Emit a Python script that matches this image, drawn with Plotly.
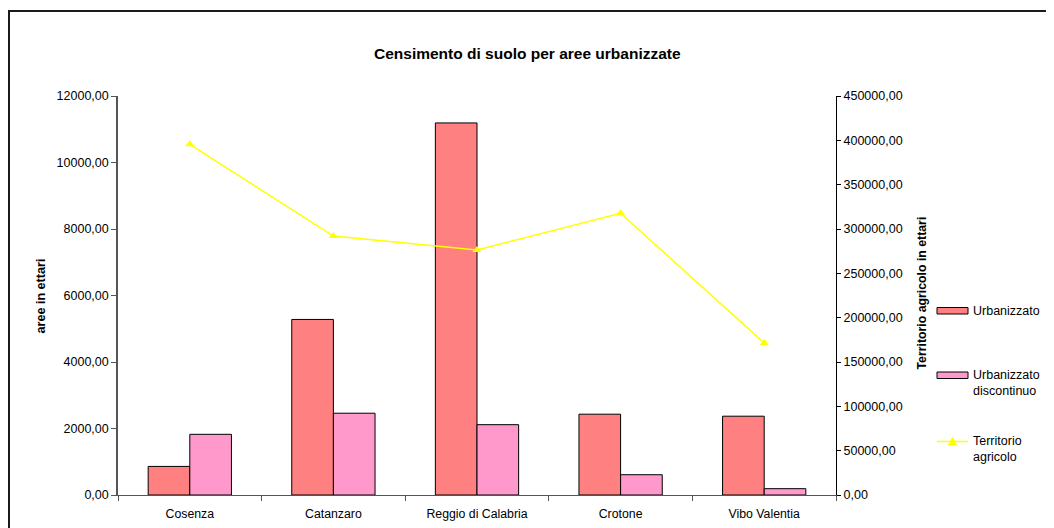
import plotly.graph_objects as go

categories = ["Cosenza", "Catanzaro", "Reggio di Calabria", "Crotone", "Vibo Valentia"]
urbanizzato = [860, 5280, 11190, 2430, 2370]
urbanizzato_discontinuo = [1825, 2460, 2115, 610, 190]
territorio_agricolo = [395500, 292000, 276300, 317700, 171400]
series_names = ["Urbanizzato", "Urbanizzato<br>discontinuo", "Territorio<br>agricolo"]
left_ticks = [0, 2000, 4000, 6000, 8000, 10000, 12000]
right_ticks = [0, 50000, 100000, 150000, 200000, 250000, 300000, 350000, 400000, 450000]

OFF = 8  # page body margin
W, H = 1054 - OFF, 528 - OFF
L, R, T, B = 118, 836, 96, 495  # page coordinates of plot area
def px(x):
    return (x - L) / (R - L)
def py(y):
    return (B - y) / (B - T)

FONT = "Liberation Sans, Arial, sans-serif"
RED = "#FF8080"
PINK = "#FF99CC"
YEL = "#FFFF00"
FS = 12.5

fig = go.Figure()
fig.add_trace(go.Bar(x=categories, y=urbanizzato, name="Urbanizzato",
                     marker=dict(color=RED, line=dict(color="#000000", width=1))))
fig.add_trace(go.Bar(x=categories, y=urbanizzato_discontinuo, name="Urbanizzato discontinuo",
                     marker=dict(color=PINK, line=dict(color="#000000", width=1))))
fig.add_trace(go.Scatter(x=categories, y=territorio_agricolo, name="Territorio agricolo",
                         yaxis="y2", mode="lines+markers",
                         line=dict(color=YEL, width=1.5),
                         marker=dict(symbol="triangle-up", size=8, color=YEL)))

fig.update_layout(
    width=W, height=H,
    margin=dict(l=L - OFF, r=W - (R - OFF), t=T - OFF, b=H - (B - OFF), pad=0),
    paper_bgcolor="white", plot_bgcolor="white",
    separators=",.",
    showlegend=False,
    barmode="group", bargap=0.42, bargroupgap=0,
    font=dict(family=FONT, size=FS, color="#000000"),
    xaxis=dict(type="category", showgrid=False, showline=True, linecolor="#555555", linewidth=1,
               ticks="outside", tickson="boundaries", ticklen=5, tickcolor="#555555",
               tickfont=dict(size=12.3), ticklabelstandoff=7, zeroline=False, automargin=False),
    yaxis=dict(range=[0, 12000], tickvals=left_ticks, tickformat=".2f", showgrid=False,
               showline=True, linecolor="#555555", linewidth=1.5, ticks="outside", ticklen=5,
               tickcolor="#555555", tickfont=dict(size=FS), zeroline=False, automargin=False),
    yaxis2=dict(range=[0, 450000], tickvals=right_ticks, tickformat=".2f", overlaying="y",
                side="right", showgrid=False, showline=True, linecolor="#000000", linewidth=1,
                ticks="outside", ticklen=4, tickcolor="#000000", tickfont=dict(size=FS),
                zeroline=False, automargin=False),
)

annotations = [
    dict(text="<b>Censimento di suolo per aree urbanizzate</b>", x=px(527), y=py(53.5),
         xref="paper", yref="paper", showarrow=False, font=dict(size=15.5), xanchor="center", yanchor="middle"),
    dict(text="<b>aree in ettari</b>", x=px(40), y=py(296.5), xref="paper", yref="paper",
         showarrow=False, textangle=-90, font=dict(size=12.6), xanchor="center", yanchor="middle"),
    dict(text="<b>Territorio agricolo in ettari</b>", x=px(921), y=py(293.5), xref="paper", yref="paper",
         showarrow=False, textangle=-90, font=dict(size=12.3), xanchor="center", yanchor="middle"),
]
legend_y = [311, 383, 449]
for name, yy in zip(series_names, legend_y):
    annotations.append(dict(text=name, x=px(971), y=py(yy), xref="paper", yref="paper",
                            showarrow=False, align="left", xanchor="left", yanchor="middle",
                            font=dict(size=FS)))

shapes = [
    dict(type="rect", xref="paper", yref="paper", x0=px(9), x1=px(1062), y0=py(11), y1=py(540),
         line=dict(color="#1a1a1a", width=2), fillcolor="rgba(0,0,0,0)", layer="above"),
    dict(type="rect", xref="paper", yref="paper", x0=px(937), x1=px(968), y0=py(314), y1=py(307.5),
         line=dict(color="#000000", width=1), fillcolor=RED),
    dict(type="rect", xref="paper", yref="paper", x0=px(937), x1=px(968), y0=py(378.5), y1=py(372),
         line=dict(color="#000000", width=1), fillcolor=PINK),
    dict(type="line", xref="paper", yref="paper", x0=px(937), x1=px(968), y0=py(441.5), y1=py(441.5),
         line=dict(color=YEL, width=1.5)),
    dict(type="path", xref="paper", yref="paper",
         path=f"M {px(948.5)} {py(445)} L {px(956.5)} {py(445)} L {px(952.5)} {py(437.5)} Z",
         line=dict(color=YEL, width=1), fillcolor=YEL),
]
fig.update_layout(annotations=annotations, shapes=shapes)

fig.write_html("out.html")
